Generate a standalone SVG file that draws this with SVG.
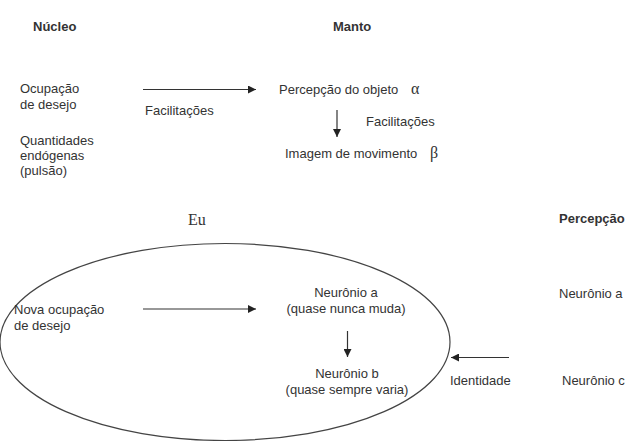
<svg xmlns="http://www.w3.org/2000/svg" width="640" height="441" viewBox="0 0 640 441">
<defs>
<marker id="ah" viewBox="0 0 10 10" refX="10" refY="5" markerWidth="10" markerHeight="8" markerUnits="userSpaceOnUse" orient="auto">
<path d="M0,0 L10,5 L0,10 Z" fill="#222"/>
</marker>
<style>
text{font-family:"Liberation Sans",Arial,sans-serif;font-size:13px;fill:#333}
.b{font-weight:bold}
.s{font-family:"Liberation Serif","Times New Roman",serif;font-size:16px}
.m{text-anchor:middle}
.c{stroke:#333;stroke-width:1.2;fill:none;marker-end:url(#ah)}
</style>
</defs>
<rect width="640" height="441" fill="#fff"/>
<g id="nucleo"><text class="b" x="33" y="31">Núcleo</text></g>
<g id="manto"><text class="b" x="333" y="31">Manto</text></g>
<g id="ocupacao"><text x="20" y="93">Ocupação</text><text x="20" y="109">de desejo</text></g>
<g id="quantidades"><text x="20" y="145">Quantidades</text><text x="20" y="160">endógenas</text><text x="20" y="175">(pulsão)</text></g>
<g id="facil1"><text x="145" y="115">Facilitações</text></g>
<g id="percepcao-objeto"><text x="279" y="94">Percepção do objeto</text><text class="s" x="411" y="94">α</text></g>
<g id="facil2"><text x="366" y="126">Facilitações</text></g>
<g id="imagem"><text x="285" y="158">Imagem de movimento</text><text class="s" x="430" y="158">β</text></g>
<g id="eu">
<ellipse cx="225" cy="342" rx="225" ry="98.5" fill="none" stroke="#444" stroke-width="1.2"/>
<text class="s" x="188" y="225">Eu</text>
</g>
<g id="percepcao"><text class="b" x="559" y="223">Percepção</text></g>
<g id="nova"><text x="14" y="314">Nova ocupação</text><text x="14" y="330">de desejo</text></g>
<g id="neuronio-a"><text class="m" x="346" y="297">Neurônio a</text><text class="m" x="346" y="313">(quase nunca muda)</text></g>
<g id="neuronio-b"><text class="m" x="347" y="378">Neurônio b</text><text class="m" x="347" y="394">(quase sempre varia)</text></g>
<g id="identidade"><text x="450" y="385">Identidade</text></g>
<g id="neuronio-a2"><text x="559" y="298">Neurônio a</text></g>
<g id="neuronio-c"><text x="562" y="385">Neurônio c</text></g>
<g id="connectors">
<line class="c" x1="143" y1="89.5" x2="256" y2="89.5"/>
<line class="c" x1="337" y1="110" x2="337" y2="137"/>
<line class="c" x1="143" y1="309" x2="256" y2="309"/>
<line class="c" x1="347.5" y1="331" x2="347.5" y2="357"/>
<line class="c" x1="509" y1="357.5" x2="451" y2="357.5"/>
</g>
</svg>
